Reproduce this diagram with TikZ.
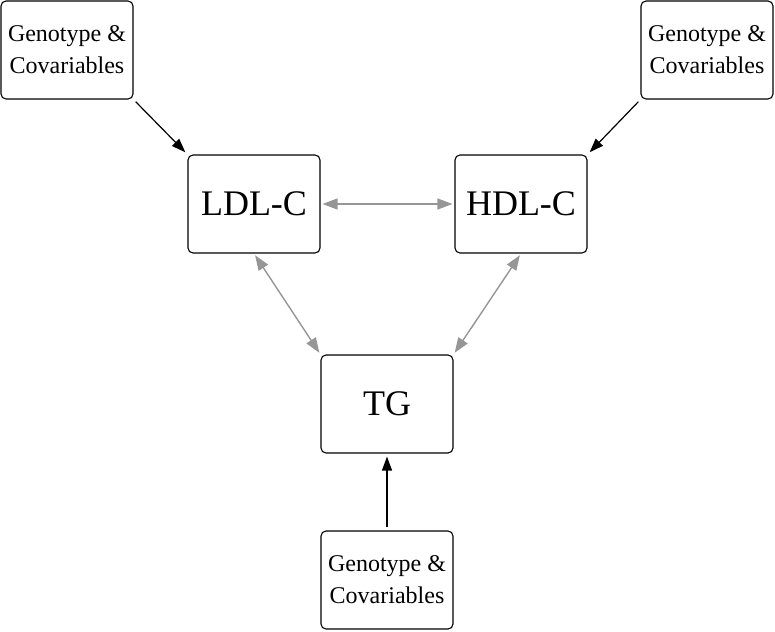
\documentclass[tikz,border=0pt]{standalone}
\usepackage{fontspec}
\setmainfont{Liberation Serif}
\usetikzlibrary{arrows.meta}
\begin{document}
\begin{tikzpicture}[x=1pt,y=-1pt,
  box/.style={draw, rounded corners=5pt, line width=1.1pt, minimum width=132pt, minimum height=98pt, inner sep=0pt, align=center},
  small/.style={box, font=\fontsize{24}{32}\selectfont},
  big/.style={box, font=\fontsize{36}{40}\selectfont},
  blk/.style={line width=1.2pt, -{Triangle[length=14pt,width=10pt]}, shorten <=3pt, shorten >=3pt},
  gry/.style={draw={rgb,255:red,150;green,150;blue,150}, line width=1.4pt, {Triangle[length=15pt,width=11pt]}-{Triangle[length=15pt,width=11pt]}, fill={rgb,255:red,150;green,150;blue,150}, shorten <=2pt, shorten >=2pt}]
\useasboundingbox (0,0) rectangle (775,631);
\node[small] (tl) at (67,50) {Genotype \&\\Covariables};
\node[small] (tr) at (707,50) {Genotype \&\\Covariables};
\node[big] (ldl) at (254,204) {LDL-C};
\node[big] (hdl) at (521,204) {HDL-C};
\node[big] (tg) at (387,404) {TG};
\node[small] (bot) at (387,580) {Genotype \&\\Covariables};
\draw[blk] (tl.south east) -- (ldl.north west);
\draw[blk] (tr.south west) -- (hdl.north east);
\draw[blk] (bot.north) -- (tg.south);
\draw[gry] (ldl.east) -- (hdl.west);
\draw[gry] (ldl.south) -- (tg.north west);
\draw[gry] (hdl.south) -- (tg.north east);
\end{tikzpicture}
\end{document}
